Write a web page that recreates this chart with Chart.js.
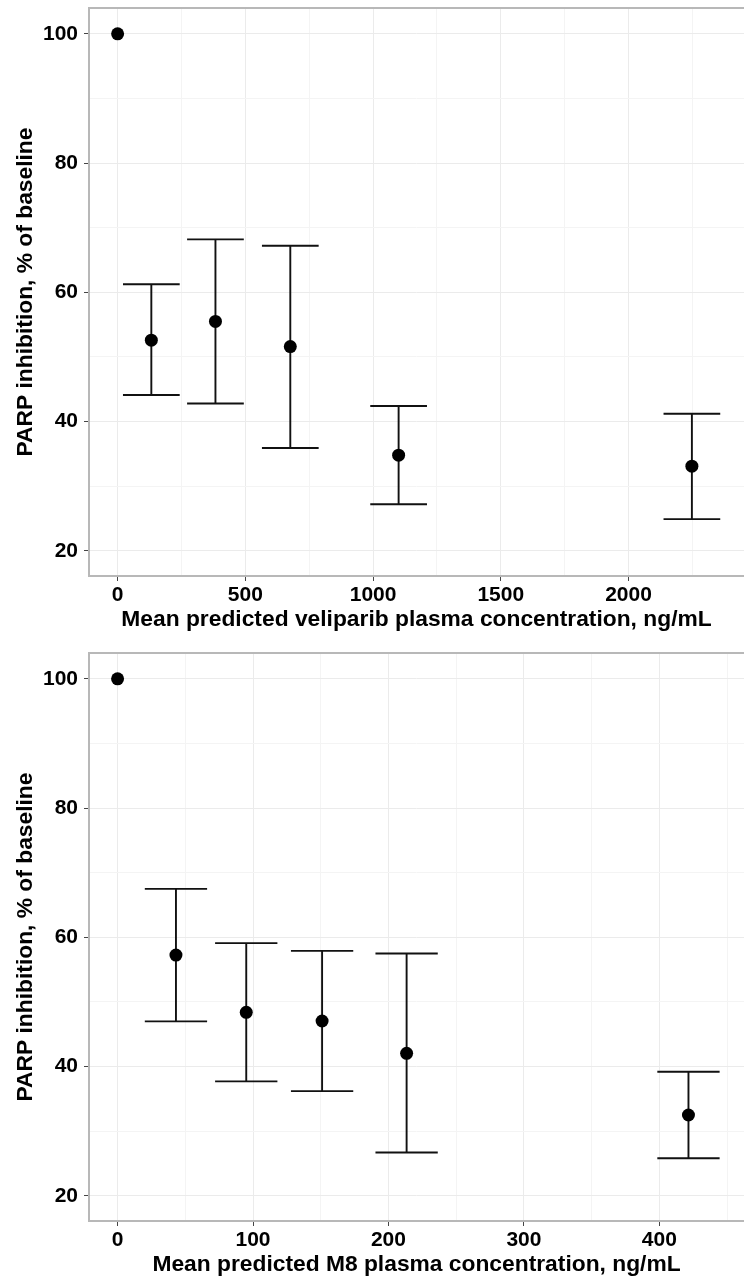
<!DOCTYPE html>
<html>
<head>
<meta charset="utf-8">
<script src="https://cdn.jsdelivr.net/npm/chart.js@4.4.1/dist/chart.umd.min.js"></script>
<style>
  body { margin: 0; background: #fff; overflow: hidden; }
  canvas { display: block; }
</style>
</head>
<body>
<canvas id="chartVeliparib" width="744" height="645"></canvas>
<canvas id="chartM8" width="744" height="637"></canvas>
<script>
// values
const veliparibConc = [0, 132, 383, 676, 1100, 2248];
const veliparibMean = [100, 52.6, 55.5, 51.6, 34.8, 33.1];
const veliparibLow = [null, 44.1, 42.8, 35.9, 27.2, 24.9];
const veliparibHigh = [null, 61.25, 68.2, 67.2, 42.4, 41.2];

const m8Conc = [0, 43.1, 95.0, 151.0, 213.4, 421.5];
const m8Mean = [100, 57.25, 48.4, 47.05, 42.05, 32.5];
const m8Low = [null, 47.0, 37.7, 36.2, 26.7, 25.8];
const m8High = [null, 67.5, 59.1, 57.9, 57.5, 39.2];

// tick positions (major ones get labels, the rest are minor grid lines)
const yTicks = [20, 30, 40, 50, 60, 70, 80, 90, 100];
const yMajor = [20, 40, 60, 80, 100];
const veliparibTicks = [0, 250, 500, 750, 1000, 1250, 1500, 1750, 2000, 2250];
const veliparibMajor = [0, 500, 1000, 1500, 2000];
const m8Ticks = [0, 50, 100, 150, 200, 250, 300, 350, 400, 450];
const m8Major = [0, 100, 200, 300, 400];

const yTitle = 'PARP inhibition, % of baseline';

const errorBars = {
    id: 'errorBars',
    beforeDatasetsDraw(chart, args, opts) {
        const ctx = chart.ctx;
        const xs = chart.scales.x, ys = chart.scales.y;
        const a = chart.chartArea;
        ctx.save();
        // panel border, right side runs off the picture
        ctx.strokeStyle = '#b8b8b8';
        ctx.lineWidth = 2;
        ctx.beginPath();
        ctx.moveTo(a.right + 2, a.top);
        ctx.lineTo(a.left, a.top);
        ctx.lineTo(a.left, a.bottom);
        ctx.lineTo(a.right + 2, a.bottom);
        ctx.stroke();
        ctx.strokeStyle = '#111';
        ctx.lineWidth = 1.9;
        const ds = chart.data.datasets[0];
        ds.data.forEach((p, i) => {
            if (ds.low[i] == null) return;
            const x = xs.getPixelForValue(p.x);
            const x1 = xs.getPixelForValue(p.x - opts.cap);
            const x2 = xs.getPixelForValue(p.x + opts.cap);
            const yl = ys.getPixelForValue(ds.low[i]);
            const yh = ys.getPixelForValue(ds.high[i]);
            ctx.beginPath();
            ctx.moveTo(x, yl); ctx.lineTo(x, yh);
            ctx.moveTo(x1, yl); ctx.lineTo(x2, yl);
            ctx.moveTo(x1, yh); ctx.lineTo(x2, yh);
            ctx.stroke();
        });
        ctx.restore();
    }
};

function noPad(s) {
    s.paddingTop = 0; s.paddingBottom = 0; s.paddingLeft = 0; s.paddingRight = 0;
}

function makeChart(id, conc, mean, low, high, xMin, xMax, xTicks, xMajor, xTitle, cap, height, titlePad) {
    const font = { family: 'Liberation Sans', weight: 'bold', size: 21 };
    const titleFont = { family: 'Liberation Sans', weight: 'bold', size: 22.8 };
    return new Chart(document.getElementById(id), {
        type: 'scatter',
        data: {
            datasets: [{
                data: conc.map((c, i) => ({ x: c, y: mean[i] })),
                low: low,
                high: high,
                backgroundColor: '#000',
                borderWidth: 0,
                pointRadius: 6.5,
                pointHoverRadius: 6.5,
                clip: false
            }]
        },
        options: {
            responsive: false,
            animation: false,
            layout: { autoPadding: false, padding: { top: 8, right: 0, left: 0, bottom: 0 } },
            plugins: {
                legend: { display: false },
                tooltip: { enabled: false },
                errorBars: { cap: cap }
            },
            scales: {
                x: {
                    type: 'linear',
                    min: xMin,
                    max: xMax,
                    afterBuildTicks: s => { s.ticks = xTicks.map(v => ({ value: v })); },
                    afterFit: s => { s.height = height - 576; noPad(s); },
                    border: { display: false },
                    grid: {
                        color: c => xMajor.includes(c.tick && c.tick.value) ? '#ebebeb' : '#f4f4f4',
                        tickColor: c => xMajor.includes(c.tick && c.tick.value) ? '#444' : 'rgba(0,0,0,0)',
                        tickLength: 5,
                        lineWidth: 1
                    },
                    ticks: {
                        autoSkip: false,
                        maxRotation: 0,
                        padding: 2,
                        color: '#000',
                        font: font,
                        callback: v => xMajor.includes(v) ? String(v) : ''
                    },
                    title: {
                        display: true,
                        text: xTitle,
                        color: '#000',
                        font: titleFont,
                        padding: { top: 0, bottom: titlePad }
                    }
                },
                y: {
                    type: 'linear',
                    min: 16.1,
                    max: 104,
                    afterBuildTicks: s => { s.ticks = yTicks.map(v => ({ value: v })); },
                    afterFit: s => { s.width = 89; noPad(s); },
                    border: { display: false },
                    grid: {
                        color: c => yMajor.includes(c.tick && c.tick.value) ? '#ebebeb' : '#f4f4f4',
                        tickColor: c => yMajor.includes(c.tick && c.tick.value) ? '#444' : 'rgba(0,0,0,0)',
                        tickLength: 5,
                        lineWidth: 1
                    },
                    ticks: {
                        autoSkip: false,
                        padding: 6,
                        color: '#000',
                        font: font,
                        callback: v => yMajor.includes(v) ? String(v) : ''
                    },
                    title: {
                        display: true,
                        text: yTitle,
                        color: '#000',
                        font: titleFont,
                        padding: { top: 12, bottom: 0 }
                    }
                }
            }
        },
        plugins: [errorBars]
    });
}

makeChart('chartVeliparib', veliparibConc, veliparibMean, veliparibLow, veliparibHigh,
    -112, 2452, veliparibTicks, veliparibMajor,
    'Mean predicted veliparib plasma concentration, ng/mL', 111, 645, 11.8);

makeChart('chartM8', m8Conc, m8Mean, m8Low, m8High,
    -21.1, 462.5, m8Ticks, m8Major,
    'Mean predicted M8 plasma concentration, ng/mL', 23, 637, 3.8);
</script>
</body>
</html>
